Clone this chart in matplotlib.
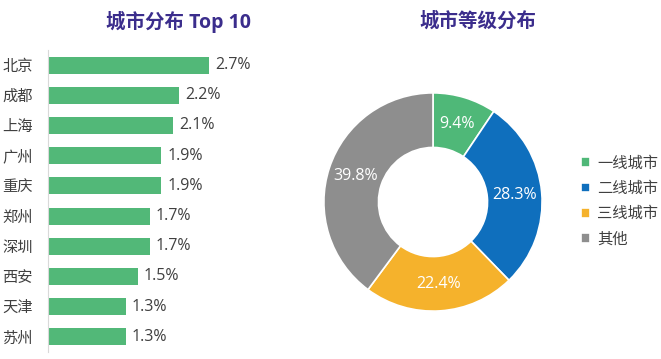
import matplotlib
matplotlib.use("Agg")
import matplotlib.pyplot as plt

plt.rcParams["font.family"] = ["Open Sans", "Noto Sans CJK SC", "DejaVu Sans"]

cities = ["北京", "成都", "上海", "广州", "重庆", "郑州", "深圳", "西安", "天津", "苏州"]
city_share = [2.7, 2.2, 2.1, 1.9, 1.9, 1.7, 1.7, 1.5, 1.3, 1.3]

tiers = ["一线城市", "二线城市", "三线城市", "其他"]
tier_share = [9.4, 28.3, 22.4, 39.8]
tier_colors = ["#4fb878", "#0f6fbd", "#f5b22c", "#8e8e8e"]

BAR_GREEN = "#52b878"
TITLE_COLOR = "#3b2d8c"
TEXT_COLOR = "#404040"
W, H = 661, 359

fig = plt.figure(figsize=(W / 100, H / 100), dpi=100)

# --- bar chart ---
ax1 = fig.add_axes([48 / W, 7 / H, 209 / W, 302 / H])
ax1.set_facecolor("none")
ax1.barh(range(len(cities)), city_share, height=0.56, color=BAR_GREEN)
ax1.set_xlim(0, 3.5)
ax1.set_ylim(len(cities) - 0.5, -0.5)
ax1.set_yticks(range(len(cities)))
ax1.set_yticklabels(cities, fontsize=11, color=TEXT_COLOR)
ax1.tick_params(axis="y", length=0, pad=11)
ax1.set_xticks([])
for s in ["top", "right", "bottom"]:
    ax1.spines[s].set_visible(False)
ax1.spines["left"].set_color("#d9d9d9")
for i, v in enumerate(city_share):
    ax1.text(v + 0.1, i, f"{v:.1f}%", va="center", ha="left", fontsize=11.5, color=TEXT_COLOR)
fig.text(178 / W, 1 - 22 / H, "城市分布 Top 10", ha="center", va="center", fontsize=14,
         fontweight="bold", color=TITLE_COLOR)

# --- donut chart ---
ax2 = fig.add_axes([(433 - 120) / W, (H - 202 - 120) / H, 240 / W, 240 / H])
ax2.set_facecolor("none")
wedges, _, autotexts = ax2.pie(tier_share, colors=tier_colors, startangle=90, counterclock=False,
                               radius=1.0, autopct="%.1f%%", pctdistance=0.75,
                               wedgeprops=dict(width=0.5, edgecolor="white", linewidth=1.2),
                               textprops=dict(color="white", fontsize=11.5))
ax2.set_xlim(-1.1, 1.1)
ax2.set_ylim(-1.1, 1.1)
ax2.set_aspect("equal")
for t, v in zip(autotexts, tier_share):
    t.set_text(f"{v:.1f}%")
ax2.legend(wedges, tiers, loc="center left", bbox_to_anchor=(1.06, 0.5), frameon=False,
           fontsize=11, handlelength=0.6, handleheight=0.6, handletextpad=0.45,
           labelspacing=0.68, labelcolor=TEXT_COLOR)
fig.text(478 / W, 1 - 22 / H, "城市等级分布", ha="center", va="center", fontsize=14,
         fontweight="bold", color=TITLE_COLOR)

fig.savefig("out.png", dpi=100)
